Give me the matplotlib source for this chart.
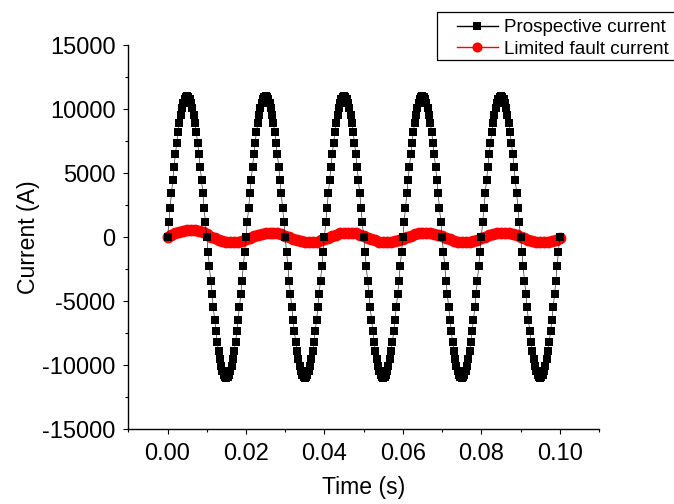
import numpy as np
import matplotlib
matplotlib.use("Agg")
import matplotlib.pyplot as plt
from matplotlib.ticker import MultipleLocator, FormatStrFormatter
from matplotlib.patches import Rectangle

plt.rcParams['font.family'] = ['Liberation Sans', 'DejaVu Sans']

# ---------------- data ----------------
# Prospective current: samples every 1/3000 s, 0 ... 0.1 s
t_start, t_stop = 0.0, 0.1
prospective_current = [
    0, 1150, 2287, 3399, 4474, 5500, 6466, 7360, 8175, 8899, 9526, 10049, 10462, 10760, 10940, 11000,
    10940, 10760, 10462, 10049, 9526, 8899, 8175, 7360, 6466, 5500, 4474, 3399, 2287, 1150, 0,
    -1150, -2287, -3399, -4474, -5500, -6466, -7360, -8175, -8899, -9526, -10049, -10462, -10760, -10940, -11000,
    -10940, -10760, -10462, -10049, -9526, -8899, -8175, -7360, -6466, -5500, -4474, -3399, -2287, -1150,
    0, 1150, 2287, 3399, 4474, 5500, 6466, 7360, 8175, 8899, 9526, 10049, 10462, 10760, 10940, 11000,
    10940, 10760, 10462, 10049, 9526, 8899, 8175, 7360, 6466, 5500, 4474, 3399, 2287, 1150, 0,
    -1150, -2287, -3399, -4474, -5500, -6466, -7360, -8175, -8899, -9526, -10049, -10462, -10760, -10940, -11000,
    -10940, -10760, -10462, -10049, -9526, -8899, -8175, -7360, -6466, -5500, -4474, -3399, -2287, -1150,
    0, 1150, 2287, 3399, 4474, 5500, 6466, 7360, 8175, 8899, 9526, 10049, 10462, 10760, 10940, 11000,
    10940, 10760, 10462, 10049, 9526, 8899, 8175, 7360, 6466, 5500, 4474, 3399, 2287, 1150, 0,
    -1150, -2287, -3399, -4474, -5500, -6466, -7360, -8175, -8899, -9526, -10049, -10462, -10760, -10940, -11000,
    -10940, -10760, -10462, -10049, -9526, -8899, -8175, -7360, -6466, -5500, -4474, -3399, -2287, -1150,
    0, 1150, 2287, 3399, 4474, 5500, 6466, 7360, 8175, 8899, 9526, 10049, 10462, 10760, 10940, 11000,
    10940, 10760, 10462, 10049, 9526, 8899, 8175, 7360, 6466, 5500, 4474, 3399, 2287, 1150, 0,
    -1150, -2287, -3399, -4474, -5500, -6466, -7360, -8175, -8899, -9526, -10049, -10462, -10760, -10940, -11000,
    -10940, -10760, -10462, -10049, -9526, -8899, -8175, -7360, -6466, -5500, -4474, -3399, -2287, -1150,
    0, 1150, 2287, 3399, 4474, 5500, 6466, 7360, 8175, 8899, 9526, 10049, 10462, 10760, 10940, 11000,
    10940, 10760, 10462, 10049, 9526, 8899, 8175, 7360, 6466, 5500, 4474, 3399, 2287, 1150, 0,
    -1150, -2287, -3399, -4474, -5500, -6466, -7360, -8175, -8899, -9526, -10049, -10462, -10760, -10940, -11000,
    -10940, -10760, -10462, -10049, -9526, -8899, -8175, -7360, -6466, -5500, -4474, -3399, -2287, -1150,
    0,
]

# Limited fault current: samples every 1 ms, 0 ... 0.1 s
limited_current = [
    0, 150, 290, 410, 502, 560, 580, 554, 477, 358, 206, 35,
    -114, -227, -322, -388, -418, -411, -365, -287, -184, -66,
    56, 168, 260, 322, 349, 338, 289, 208, 102, -17,
    -138, -248, -338, -397, -420, -404, -352, -268, -161, -41,
    79, 188, 275, 331, 350, 331, 275, 188, 79, -41,
    -161, -268, -352, -404, -420, -397, -338, -248, -138, -17,
    102, 208, 289, 338, 349, 322, 260, 168, 56, -66,
    -184, -287, -365, -411, -418, -388, -322, -227, -114, 8,
    125, 226, 301, 343, 347, 313, 244, 147, 32, -90,
    -206, -305, -377, -415, -415, -377, -305, -206, -90,
]

x_ticks = [0.00, 0.02, 0.04, 0.06, 0.08, 0.10]
y_ticks = [-15000, -10000, -5000, 0, 5000, 10000, 15000]
series_labels = ["Prospective current", "Limited fault current"]
x_label = "Time (s)"
y_label = "Current (A)"

t_prosp = np.linspace(t_start, t_stop, len(prospective_current))
t_limit = np.linspace(t_start, t_stop, len(limited_current))

# ---------------- figure ----------------
W, H = 674, 504
fig = plt.figure(figsize=(W / 100, H / 100), dpi=100)
ax = fig.add_axes([128.3 / W, 1 - 429 / H, (599 - 128.3) / W, (429 - 45) / H])

ax.plot(t_limit, limited_current, color='red', linewidth=0.8, marker='o',
        markersize=8.5, markeredgewidth=0, label=series_labels[1], zorder=2)
ax.plot(t_prosp, prospective_current, color='black', linewidth=0.4, marker='s',
        markersize=6.4, markeredgewidth=0, label=series_labels[0], zorder=3)

ax.set_xlim(-0.01, 0.11)
ax.set_ylim(-15000, 15000)
ax.set_xticks(x_ticks)
ax.set_yticks(y_ticks)
ax.xaxis.set_major_formatter(FormatStrFormatter('%.2f'))
ax.yaxis.set_major_formatter(FormatStrFormatter('%d'))
ax.xaxis.set_minor_locator(MultipleLocator(0.01))
ax.yaxis.set_minor_locator(MultipleLocator(2500))

for s in ['top', 'right']:
    ax.spines[s].set_visible(False)
for s in ['left', 'bottom']:
    ax.spines[s].set_linewidth(1.0)

ax.tick_params(which='major', direction='out', length=3.8, width=0.8,
               labelsize=17, pad=6.5)
ax.tick_params(which='minor', direction='out', length=2.2, width=0.8)
ax.tick_params(axis='y', which='major', pad=5.5)

ax.set_xlabel(x_label, fontsize=16.6, labelpad=8)
ax.set_ylabel(y_label, fontsize=16.6, labelpad=1.5)

handles, labels = ax.get_legend_handles_labels()
order = [1, 0]
leg = fig.legend([handles[i] for i in order], [labels[i] for i in order],
                 loc='upper left', bbox_to_anchor=(452 / W, 1 - 14.5 / H),
                 bbox_transform=fig.transFigure, borderaxespad=0,
                 fontsize=13.6, frameon=False,
                 handlelength=2.2, handletextpad=0.3, labelspacing=0.22,
                 borderpad=0.25, markerscale=0.85)
for lh in leg.legend_handles:
    lh.set_linewidth(1.0)

# legend frame (extends past the right edge of the figure, as in the reference)
fig.patches.append(Rectangle((437.3 / W, 1 - 60.4 / H), (700 - 437.3) / W, (60.4 - 12.3) / H,
                             transform=fig.transFigure, fill=False,
                             edgecolor='black', linewidth=0.9))

fig.savefig("out.png", dpi=100)
